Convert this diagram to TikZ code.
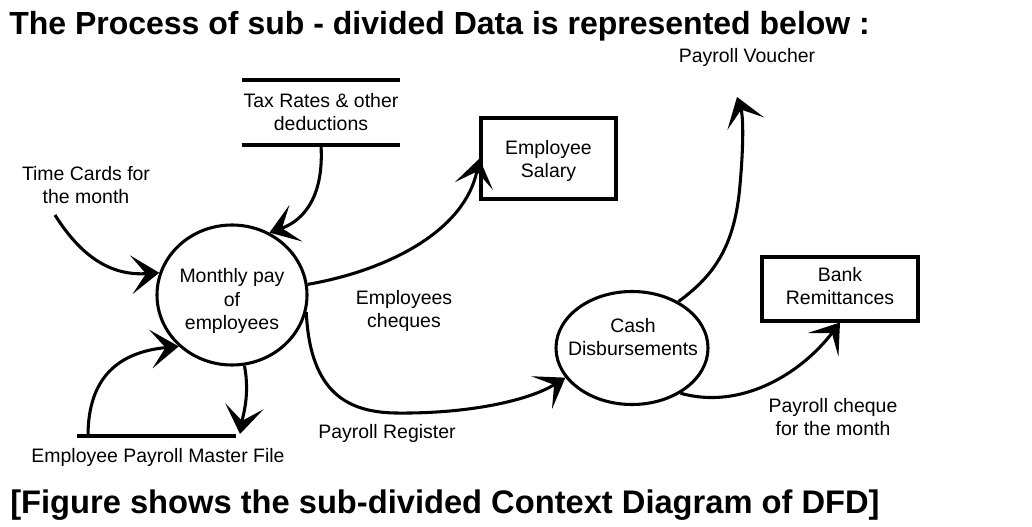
\documentclass[tikz,border=0pt]{standalone}
\usepackage{fontspec}
\setmainfont{Liberation Sans}
\usetikzlibrary{arrows.meta,shapes.geometric}
\tikzset{
  lbl/.style={align=center, inner sep=0pt, font=\fontsize{14.6}{17.3}\selectfont},
  ttl/.style={anchor=base west, inner sep=0pt, font=\fontsize{24}{28}\selectfont\bfseries},
  proc/.style={draw, ellipse, line width=2.3pt, inner sep=0pt},
  ent/.style={draw, rectangle, line width=2.3pt, inner sep=0pt},
  store/.style={line width=3pt},
  flow/.style={line width=2.3pt, -{Stealth[length=21pt,width=29pt,inset=11pt]}}
}
\begin{document}
\begin{tikzpicture}[x=0.75pt,y=-0.75pt]
\useasboundingbox (0,0) rectangle (1032,527);
% titles
\node[ttl] (title) at (9,35) {The Process of sub - divided Data is represented below :};
\node[ttl, font=\fontsize{24.5}{28}\selectfont\bfseries] (caption) at (10,513) {[Figure shows the sub-divided Context Diagram of DFD]};
% processes
\node[proc, minimum width=112.5pt, minimum height=105pt] (mp) at (232,295) {};
\node[lbl] (mptxt) at (232,301) {Monthly pay\\of\\employees};
\node[proc, minimum width=114pt, minimum height=84.75pt] (cd) at (632,348) {};
\node[lbl] (cdtxt) at (633,337) {Cash\\Disbursements};
% entities
\node[ent, minimum width=101.25pt, minimum height=60.75pt] (sal) at (548.5,158.5) {};
\node[lbl] (saltxt) at (548.5,161) {Employee\\Salary};
\node[ent, minimum width=117pt, minimum height=48pt] (bank) at (840,289) {};
\node[lbl] (banktxt) at (840,286) {Bank\\Remittances};
% tax store
\node[lbl, minimum width=118.5pt, minimum height=48.75pt] (tax) at (321,112.5) {Tax Rates \& other\\deductions};
\draw[store] (tax.north west) -- (tax.north east);
\draw[store] (tax.south west) -- (tax.south east);
% master file store
\coordinate (mfL) at (77,436);
\coordinate (mfR) at (236,436);
\draw[store] (mfL) -- (mfR);
\node[lbl] (mftxt) at (158,457) {Employee Payroll Master File};
\coordinate (mfa) at (88,436);
\coordinate (mfb) at (240,434);
% other labels
\node[lbl] (tc) at (86,185) {Time Cards for\\the month};
\coordinate (tcs) at (55,215);
\node[lbl] (pv) at (747,57) {Payroll Voucher};
\coordinate (pvend) at (737,97);
\node[lbl] (ec) at (404,311) {Employees\\cheques};
\node[lbl] (pr) at (387,433) {Payroll Register};
\node[lbl] (pc) at (833,417) {Payroll cheque\\for the month};
% flows
\draw[flow] (tcs) .. controls (82,258) and (112,276) .. (mp.163);
\draw[flow] (tax.south) .. controls (324,195) and (305,220) .. (mp.59);
\draw[flow] (mfa) .. controls (88,378) and (118,352) .. (mp.224);
\draw[flow] (mp.280) .. controls (250,395) and (243,415) .. (mfb);
\draw[flow] (mp.8) .. controls (390,270) and (465,230) .. (sal.west);
\draw[flow] (mp.347) .. controls (310,395) and (350,412) .. (395,413) .. controls (470,414) and (530,400) .. (cd.204);
\draw[flow] (cd.45) .. controls (715,275) and (735,245) .. (740,185) .. controls (744,140) and (743,115) .. (pvend);
\draw[flow] (cd.317) .. controls (740,410) and (800,375) .. (bank.south);
\end{tikzpicture}
\end{document}
